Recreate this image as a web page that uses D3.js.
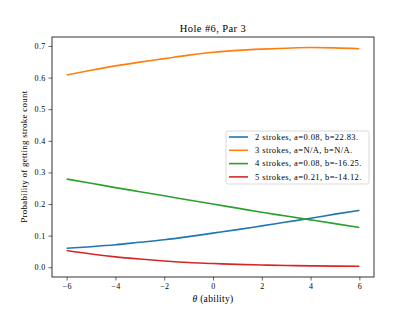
<!DOCTYPE html>
<html>
<head>
<meta charset="utf-8">
<script src="https://cdn.jsdelivr.net/npm/d3@7"></script>
<style>
  body { margin: 0; background: #fff; }
  text { font-family: "Liberation Serif", "DejaVu Serif", serif; fill: #000; }
</style>
</head>
<body>
<div id="chart"></div>
<script>
var svgWidth = 415;
var svgHeight = 312;

var margin = {top: 37, right: 41, bottom: 35, left: 52};

var width = svgWidth - margin.left - margin.right;
var height = svgHeight - margin.top - margin.bottom;

// data
var theta = [-6, -5, -4, -3, -2, -1, 0, 1, 2, 3, 4, 5, 6];
var p2 = [0.060, 0.065, 0.071, 0.079, 0.087, 0.097, 0.108, 0.119, 0.131, 0.143, 0.155, 0.168, 0.180];
var p3 = [0.608, 0.623, 0.637, 0.649, 0.660, 0.671, 0.680, 0.686, 0.690, 0.693, 0.695, 0.694, 0.691];
var p4 = [0.279, 0.266, 0.252, 0.239, 0.226, 0.213, 0.200, 0.187, 0.174, 0.162, 0.150, 0.138, 0.126];
var p5 = [0.053, 0.042, 0.033, 0.026, 0.020, 0.015, 0.012, 0.009, 0.007, 0.0055, 0.0045, 0.0037, 0.003];

var seriesNames = ["2 strokes, a=0.08, b=22.83.", "3 strokes, a=N/A, b=N/A.", "4 strokes, a=0.08, b=-16.25.", "5 strokes, a=0.21, b=-14.12."];
var seriesColors = ["#1f77b4", "#ff7f0e", "#2ca02c", "#d62728"];
var xTicks = [-6, -4, -2, 0, 2, 4, 6];
var yTicks = [0.0, 0.1, 0.2, 0.3, 0.4, 0.5, 0.6, 0.7];

var series = [p2, p3, p4, p5];

var svg = d3.select("#chart")
  .append("svg")
  .attr("width", svgWidth)
  .attr("height", svgHeight);

var chartGroup = svg.append("g")
  .attr("transform", `translate(${margin.left}, ${margin.top})`);

// matplotlib style 5% margins
var xScale = d3.scaleLinear().domain([-6.6, 6.6]).range([0, width]);
var yScale = d3.scaleLinear().domain([-0.0308, 0.7284]).range([height, 0]);

var fmtMinus = s => String(s).replace("-", "\u2212");

var bottomAxis = d3.axisBottom(xScale)
  .tickValues(xTicks)
  .tickSizeInner(3.5).tickSizeOuter(0).tickPadding(3)
  .tickFormat(d => fmtMinus(d));
var leftAxis = d3.axisLeft(yScale)
  .tickValues(yTicks)
  .tickSizeInner(3.5).tickSizeOuter(0).tickPadding(3)
  .tickFormat(d3.format(".1f"));

var xAxis = chartGroup.append("g")
  .attr("transform", `translate(0, ${height})`)
  .call(bottomAxis);
var yAxis = chartGroup.append("g")
  .call(leftAxis);

[xAxis, yAxis].forEach(function (ax) {
  ax.select(".domain").remove();
  ax.selectAll("line").attr("stroke", "#000").attr("stroke-width", 0.6);
  ax.selectAll("text")
    .style("font-family", "'Liberation Serif', serif")
    .attr("font-size", 8)
    .attr("letter-spacing", 0.3);
});

// lines
var line = d3.line()
  .x((d, i) => xScale(theta[i]))
  .y(d => yScale(d))
  .curve(d3.curveMonotoneX);

chartGroup.selectAll(".series")
  .data(series)
  .enter()
  .append("path")
  .attr("class", "series")
  .attr("d", d => line(d))
  .attr("fill", "none")
  .attr("stroke", (d, i) => seriesColors[i])
  .attr("stroke-width", 1.6);

// frame
chartGroup.append("rect")
  .attr("width", width)
  .attr("height", height)
  .attr("fill", "none")
  .attr("stroke", "#000")
  .attr("stroke-width", 0.8);

// title and axis labels
chartGroup.append("text")
  .attr("x", width / 2)
  .attr("y", -5)
  .attr("text-anchor", "middle")
  .attr("font-size", 10.5)
  .attr("letter-spacing", 0.4)
  .text("Hole #6, Par 3");

chartGroup.append("text")
  .attr("x", width / 2)
  .attr("y", height + 25)
  .attr("text-anchor", "middle")
  .attr("font-size", 9.5)
  .attr("letter-spacing", 0.3)
  .html("<tspan font-style='italic'>\u03b8</tspan> (ability)");

chartGroup.append("text")
  .attr("transform", "rotate(-90)")
  .attr("x", -(yScale(0.35)))
  .attr("y", -25)
  .attr("text-anchor", "middle")
  .attr("font-size", 9)
  .attr("letter-spacing", 0.25)
  .text("Probability of getting stroke count");

// legend
var legend = chartGroup.append("g")
  .attr("transform", `translate(${226 - margin.left}, ${131 - margin.top})`);

legend.append("rect")
  .attr("width", 143)
  .attr("height", 53)
  .attr("rx", 2)
  .attr("fill", "#fff")
  .attr("fill-opacity", 0.8)
  .attr("stroke", "#d0d0d0")
  .attr("stroke-width", 0.8);

var items = legend.selectAll(".item")
  .data(seriesNames)
  .enter()
  .append("g")
  .attr("transform", (d, i) => `translate(0, ${6 + i * 13.3})`);

items.append("line")
  .attr("x1", 3).attr("x2", 22)
  .attr("stroke", (d, i) => seriesColors[i])
  .attr("stroke-width", 1.6);

items.append("text")
  .attr("x", 29)
  .attr("dy", "0.33em")
  .attr("font-size", 8.5)
  .attr("letter-spacing", 0.4)
  .text(d => d);
</script>
</body>
</html>
